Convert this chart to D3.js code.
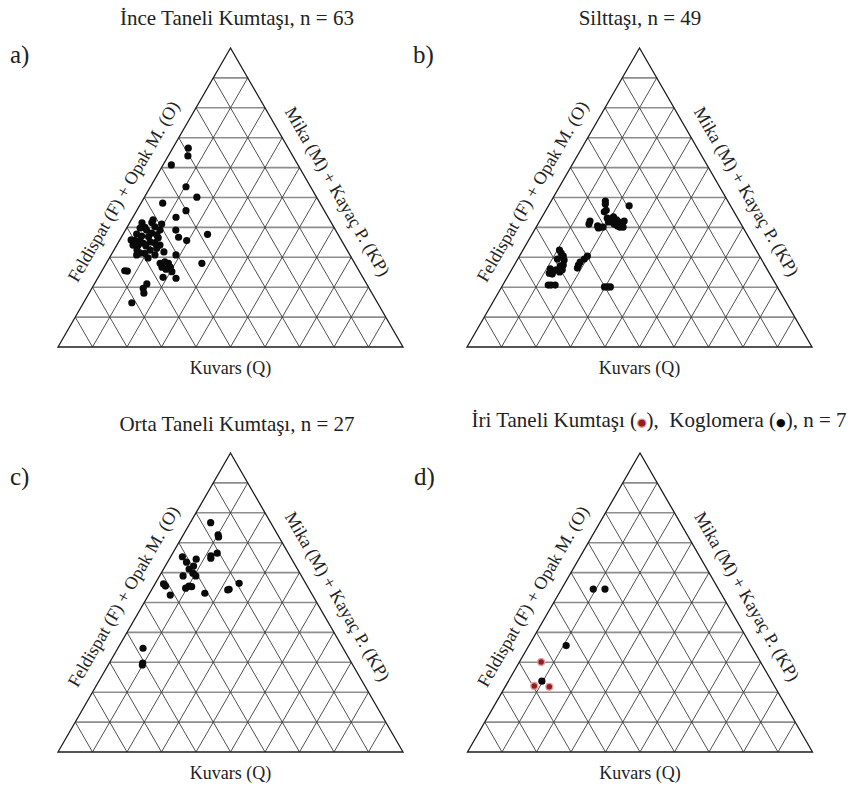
<!DOCTYPE html>
<html>
<head>
<meta charset="utf-8">
<script src="https://cdn.jsdelivr.net/npm/d3@7"></script>
<style>
  body { margin: 0; background: #fff; }
  svg { display: block; }
</style>
</head>
<body>
<svg id="chart" width="851" height="791"></svg>
<script>
// Modal compositions, each sample as [Q, F+O, M+KP] in percent.
const inceTaneli = [
  [66.5, 29.0, 4.5], [63.9, 30.4, 5.7], [60.9, 36.7, 2.4], [53.6, 36.1, 10.3],
  [50.1, 34.7, 15.2], [48.1, 45.6, 6.3], [45.6, 40.1, 14.3], [43.4, 44.1, 12.5],
  [37.7, 37.8, 24.5], [39.1, 46.3, 14.6], [36.7, 46.7, 16.6], [35.6, 44.9, 19.5],
  [41.6, 52.0, 6.4], [40.2, 51.8, 8.0], [40.0, 54.8, 5.2], [39.1, 50.9, 10.0],
  [37.8, 58.3, 3.9], [36.9, 55.3, 7.8], [37.1, 57.2, 5.7], [37.5, 52.6, 9.9],
  [35.7, 58.4, 5.9], [35.7, 59.9, 4.4], [34.1, 61.2, 4.7], [34.1, 59.7, 6.2],
  [34.7, 57.9, 7.4], [34.1, 53.4, 12.5], [32.4, 57.1, 10.5], [30.8, 61.8, 7.4],
  [31.3, 59.2, 9.5], [30.8, 56.5, 12.7], [33.0, 54.9, 12.1], [39.1, 54.8, 6.1],
  [35.2, 55.7, 9.1], [30.8, 50.4, 18.8], [28.0, 56.4, 15.6], [28.5, 54.8, 16.7],
  [28.0, 54.0, 18.0], [26.7, 54.1, 19.2], [26.7, 56.5, 16.8], [26.0, 55.7, 18.3],
  [25.2, 54.4, 20.4], [28.0, 44.3, 27.7], [25.5, 67.9, 6.6], [25.4, 67.2, 7.4],
  [23.3, 57.9, 18.8], [23.0, 54.3, 22.7], [21.1, 63.7, 15.2], [19.6, 65.5, 14.9],
  [18.0, 66.1, 15.9], [14.8, 71.2, 14.0], [39.8, 56.3, 3.9], [38.1, 53.8, 8.1],
  [32.4, 60.9, 6.7], [33.8, 57.6, 8.6], [34.8, 54.5, 10.7], [35.8, 60.9, 3.3],
  [36.5, 52.7, 10.8], [41.5, 54.9, 3.6], [41.1, 49.4, 9.5], [29.8, 59.0, 11.2],
  [31.4, 60.5, 8.1], [31.8, 53.4, 14.8], [42.5, 51.2, 6.3]
];

const silttasi = [
  [48.8, 35.5, 15.7], [47.8, 36.0, 16.2], [45.2, 37.6, 17.2], [47.2, 29.4, 23.4],
  [43.1, 37.8, 19.1], [42.8, 37.1, 20.1], [43.5, 35.8, 20.7], [42.5, 35.4, 22.1],
  [41.8, 35.0, 23.2], [41.1, 34.5, 24.4], [40.1, 35.6, 24.3], [40.5, 36.1, 23.4],
  [41.8, 37.0, 21.2], [41.8, 38.1, 20.1], [42.1, 33.4, 24.5], [42.1, 43.3, 14.6],
  [41.1, 44.1, 14.8], [40.5, 41.9, 17.6], [40.1, 41.4, 18.5], [40.1, 40.5, 19.4],
  [39.8, 42.0, 18.2], [41.1, 36.8, 22.1], [40.1, 34.7, 25.2], [45.7, 36.8, 17.5],
  [32.4, 57.0, 10.6], [31.4, 57.0, 11.6], [30.4, 56.9, 12.7], [29.1, 57.3, 13.6],
  [27.4, 58.4, 14.2], [29.4, 59.1, 11.5], [30.4, 49.9, 19.7], [29.4, 51.3, 19.3],
  [28.4, 53.0, 18.6], [27.4, 54.0, 18.6], [26.4, 54.8, 18.8], [26.1, 62.8, 11.1],
  [25.4, 62.3, 12.3], [25.8, 61.2, 13.0], [25.1, 60.6, 14.3], [24.7, 63.8, 11.5],
  [24.4, 63.1, 12.5], [25.8, 59.5, 14.7], [20.7, 66.1, 13.2], [20.7, 65.3, 14.0],
  [20.7, 64.1, 15.2], [20.1, 50.1, 29.8], [20.1, 49.2, 30.7], [20.1, 48.4, 31.5],
  [27.1, 59.4, 13.5]
];

const ortaTaneli = [
  [76.7, 17.4, 5.9], [72.6, 17.3, 10.1], [66.5, 20.6, 12.9], [64.8, 23.3, 11.9],
  [65.3, 31.3, 3.4], [64.5, 27.7, 7.8], [61.2, 31.4, 7.4], [59.8, 31.0, 9.2],
  [58.9, 34.3, 6.8], [55.5, 34.3, 10.2], [55.3, 33.6, 11.1], [56.2, 41.3, 2.5],
  [52.5, 41.2, 6.3], [53.1, 30.9, 16.0], [54.4, 23.2, 22.4], [56.4, 19.3, 24.3],
  [34.7, 58.0, 7.3], [29.7, 60.6, 9.7], [62.2, 29.6, 8.2], [63.5, 31.0, 5.5],
  [58.9, 30.6, 10.5], [54.8, 35.6, 9.6], [65.6, 22.9, 11.5], [71.9, 17.5, 10.6],
  [55.5, 41.1, 3.4], [54.2, 23.7, 22.1], [29.1, 61.0, 9.9]
];

const iriTaneli = [
  [30.1, 63.6, 6.3], [22.1, 69.6, 8.3], [21.8, 65.4, 12.8]
];

const koglomera = [
  [54.5, 36.3, 9.2], [54.5, 32.9, 12.6], [35.6, 53.6, 10.8], [23.7, 66.6, 9.7]
];

// Grid divisions (percent) drawn parallel to each side.
const gridSteps = [10, 20, 30, 40, 50, 60, 70, 80, 90];

const panelLetters = ["a)", "b)", "c)", "d)"];
const panelTitles = [
  "İnce Taneli Kumtaşı, n = " + inceTaneli.length,
  "Silttaşı, n = " + silttasi.length,
  "Orta Taneli Kumtaşı, n = " + ortaTaneli.length,
  null // built with coloured markers below
];
const labelQ = "Kuvars (Q)";
const labelF = "Feldispat (F) + Opak M. (O)";
const labelM = "Mika (M) + Kayaç P. (KP)";

// ---- layout ----
const svg = d3.select("#chart");
const SERIF = "'Liberation Serif', 'Times New Roman', Times, serif";
const W = 345, H = 299;
const panels = [
  { apexX: 230.5, apexY: 48,  letterX: 10,  letterY: 63,  titleX: 237, titleY: 25,  series: [{ data: inceTaneli, kind: "black" }] },
  { apexX: 639.5, apexY: 48,  letterX: 413, letterY: 63,  titleX: 640, titleY: 25,  series: [{ data: silttasi, kind: "black" }] },
  { apexX: 230.5, apexY: 453, letterX: 10,  letterY: 485, titleX: 237, titleY: 431, series: [{ data: ortaTaneli, kind: "black" }] },
  { apexX: 640,   apexY: 453, letterX: 414, letterY: 485, titleX: 659, titleY: 427, series: [{ data: koglomera, kind: "black" }, { data: iriTaneli, kind: "red" }] }
];

const markerStyle = {
  black: { fill: "#0a0a0a", stroke: "none", sw: 0, r: 3.6 },
  red:   { fill: "#8e1f22", stroke: "#e79a9a", sw: 1.3, r: 3.4 }
};

panels.forEach((p, i) => {
  const g = svg.append("g");
  const x = d3.scaleLinear().domain([0, 100]).range([p.apexX - W / 2, p.apexX + W / 2]);
  const y = d3.scaleLinear().domain([0, 100]).range([p.apexY + H, p.apexY]);
  const proj = ([q, f, m]) => [x(m + q / 2), y(q)];
  const line = d3.line().x(d => proj(d)[0]).y(d => proj(d)[1]);

  // horizontal lines: constant Q
  g.append("g").selectAll("path").data(gridSteps).join("path")
    .attr("d", v => line([[v, 100 - v, 0], [v, 0, 100 - v]]))
    .attr("fill", "none").attr("stroke", "#8d8d8d").attr("stroke-width", 1.6);

  // lines of constant M and constant F
  const diag = g.append("g").attr("fill", "none").attr("stroke", "#3c3c3c").attr("stroke-width", 0.9);
  diag.selectAll("path.m").data(gridSteps).join("path").attr("class", "m")
    .attr("d", v => line([[0, 100 - v, v], [100 - v, 0, v]]));
  diag.selectAll("path.f").data(gridSteps).join("path").attr("class", "f")
    .attr("d", v => line([[0, v, 100 - v], [100 - v, v, 0]]));

  // outline
  g.append("path")
    .attr("d", line([[100, 0, 0], [0, 100, 0], [0, 0, 100]]) + "Z")
    .attr("fill", "none").attr("stroke", "#1c1c1c").attr("stroke-width", 1.3)
    .attr("stroke-linejoin", "miter");

  // samples
  p.series.forEach(s => {
    const st = markerStyle[s.kind];
    g.append("g").selectAll("circle").data(s.data).join("circle")
      .attr("cx", d => proj(d)[0]).attr("cy", d => proj(d)[1])
      .attr("r", st.r).attr("fill", st.fill)
      .attr("stroke", st.stroke).attr("stroke-width", st.sw);
  });

  // side labels
  const t = 0.515, off = 21;
  const lx = p.apexX - t * W / 2 - off * Math.cos(Math.PI / 6);
  const ly = p.apexY + t * H - off * Math.sin(Math.PI / 6);
  g.append("text").text(labelF)
    .attr("transform", `translate(${lx},${ly}) rotate(-60)`)
    .attr("text-anchor", "middle").attr("dominant-baseline", "central")
    .attr("font-family", SERIF).attr("font-size", 18).attr("fill", "#222");
  const rx = p.apexX + t * W / 2 + off * Math.cos(Math.PI / 6);
  g.append("text").text(labelM)
    .attr("transform", `translate(${rx},${ly}) rotate(60)`)
    .attr("text-anchor", "middle").attr("dominant-baseline", "central")
    .attr("font-family", SERIF).attr("font-size", 18).attr("fill", "#222");
  g.append("text").text(labelQ)
    .attr("x", p.apexX).attr("y", p.apexY + H + 27)
    .attr("text-anchor", "middle")
    .attr("font-family", SERIF).attr("font-size", 18).attr("fill", "#222");

  // panel letter
  g.append("text").text(panelLetters[i])
    .attr("x", p.letterX).attr("y", p.letterY)
    .attr("font-family", SERIF).attr("font-size", 25).attr("fill", "#222");

  // title
  const title = g.append("text")
    .attr("x", p.titleX).attr("y", p.titleY)
    .attr("text-anchor", "middle")
    .attr("font-family", SERIF).attr("font-size", 21).attr("fill", "#222");
  if (panelTitles[i]) {
    title.text(panelTitles[i]);
  } else {
    title.append("tspan").text("İri Taneli Kumtaşı (");
    title.append("tspan").text("●").attr("fill", markerStyle.red.fill)
      .attr("stroke", markerStyle.red.stroke).attr("stroke-width", 1)
      .attr("font-family", "'DejaVu Sans', sans-serif")
      .attr("font-size", 11).attr("dy", -1);
    title.append("tspan").text("),  Koglomera (").attr("dy", 1).style("white-space", "pre");
    title.append("tspan").text("●").attr("fill", "#0a0a0a")
      .attr("font-family", "'DejaVu Sans', sans-serif")
      .attr("font-size", 11).attr("dy", -1);
    title.append("tspan").text("), n = " + (iriTaneli.length + koglomera.length)).attr("dy", 1);
  }
});
</script>
</body>
</html>
